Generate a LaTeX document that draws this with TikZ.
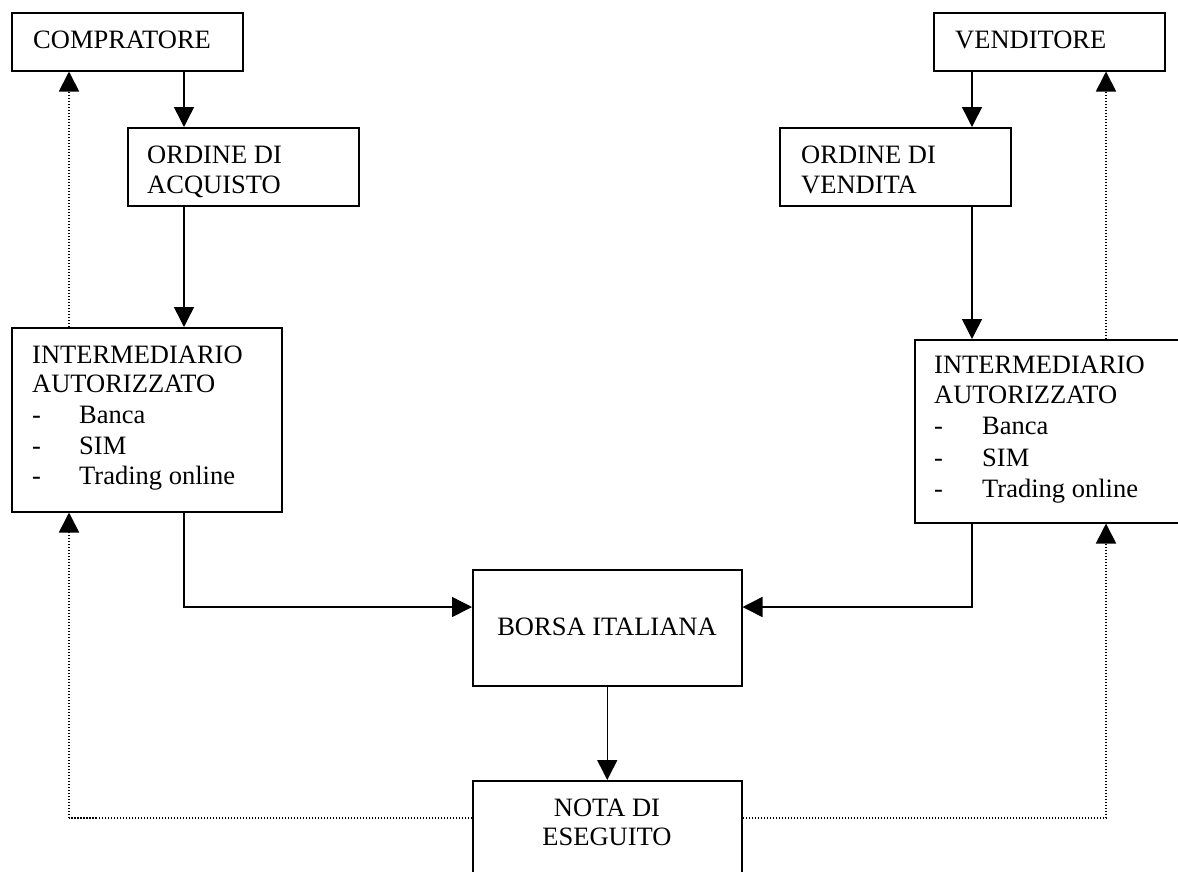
\documentclass[tikz,border=0pt]{standalone}
\usepackage{fontspec}
\setmainfont{Liberation Serif}
\usetikzlibrary{arrows.meta}
\begin{document}
\begin{tikzpicture}[x=1pt,y=-1pt,
  box/.style={draw,line width=1.5pt,rectangle,inner sep=0pt,anchor=north west},
  lbl/.style={anchor=base west,inner sep=0pt,font=\fontsize{26.5}{30}\selectfont},
  clbl/.style={anchor=base,inner sep=0pt,font=\fontsize{26.5}{30}\selectfont},
  conn/.style={line width=1.5pt,-{Triangle[length=20pt,width=20pt]}},
  fb/.style={line width=1.8pt,dash pattern=on 1.5pt off 1.5pt,-{Triangle[length=20pt,width=20pt]}},
  fbl/.style={line width=1.8pt,dash pattern=on 1.5pt off 1.5pt}]
\useasboundingbox[fill=white] (0,0) rectangle (1178,871);
% boxes
\node[box,minimum width=231pt,minimum height=58pt] (comp) at (11,12) {};
\node[box,minimum width=231pt,minimum height=78pt] (oacq) at (127,127) {};
\node[box,minimum width=270pt,minimum height=184pt] (intl) at (11,327) {};
\node[box,minimum width=231pt,minimum height=58pt] (vend) at (933,12) {};
\node[box,minimum width=231pt,minimum height=78pt] (oven) at (779,127) {};
\node[box,minimum width=272pt,minimum height=183pt] (intr) at (914,339) {};
\node[box,minimum width=269pt,minimum height=116pt] (borsa) at (472,569) {};
\node[box,minimum width=269pt,minimum height=110pt] (nota) at (472,780) {};
% texts
\node[lbl] (tcomp) at (33,48) {COMPRATORE};
\node[lbl] (toacq1) at (147,163) {ORDINE DI};
\node[lbl] (toacq2) at (147,193) {ACQUISTO};
\node[lbl] (til1) at (32,363) {INTERMEDIARIO};
\node[lbl] (til2) at (32,392) {AUTORIZZATO};
\node[lbl] (til3) at (32,423) {-};
\node[lbl] (til4) at (32,454) {-};
\node[lbl] (til5) at (32,484) {-};
\node[lbl] (til6) at (79,423) {Banca};
\node[lbl] (til7) at (79,454) {SIM};
\node[lbl] (til8) at (79,484) {Trading online};
\node[lbl] (tvend) at (955,48) {VENDITORE};
\node[lbl] (toven1) at (801,163) {ORDINE DI};
\node[lbl] (toven2) at (801,193) {VENDITA};
\node[lbl] (tir1) at (934,373) {INTERMEDIARIO};
\node[lbl] (tir2) at (934,403) {AUTORIZZATO};
\node[lbl] (tir3) at (934,434) {-};
\node[lbl] (tir4) at (934,466) {-};
\node[lbl] (tir5) at (934,497) {-};
\node[lbl] (tir6) at (982,434) {Banca};
\node[lbl] (tir7) at (982,466) {SIM};
\node[lbl] (tir8) at (982,497) {Trading online};
\node[clbl] (tborsa) at (607,635) {BORSA ITALIANA};
\node[clbl] (tnota1) at (607,816) {NOTA DI};
\node[clbl] (tnota2) at (607,845) {ESEGUITO};
% coordinates
\coordinate (lcorner) at (184,607);
\coordinate (rcorner) at (972,607);
\coordinate (ldot) at (69,818);
\coordinate (rdot) at (1106,818);
% solid connectors
\draw[conn] ([xshift=173pt]comp.south west) -- ([xshift=57pt]oacq.north west);
\draw[conn] ([xshift=57pt]oacq.south west) -- ([xshift=173pt]intl.north west);
\draw[conn] ([xshift=39pt]vend.south west) -- ([xshift=193pt]oven.north west);
\draw[conn] ([xshift=193pt]oven.south west) -- ([xshift=58pt]intr.north west);
\draw[conn] ([xshift=173pt]intl.south west) -- (lcorner) -- (lcorner -| borsa.west);
\draw[conn] ([xshift=58pt]intr.south west) -- (rcorner) -- (rcorner -| borsa.east);
\draw[conn] (borsa.south) -- (nota.north);
% dotted feedback
\draw[fb] ([xshift=58pt]intl.north west) -- ([xshift=58pt]comp.south west);
\draw[fb] ([xshift=192pt]intr.north west) -- ([xshift=173pt]vend.south west);
\draw[fbl] (ldot -| nota.west) -- (ldot);
\draw[fb] (ldot) -- ([xshift=58pt]intl.south west);
\draw[fbl] (rdot -| nota.east) -- (rdot);
\draw[fb] (rdot) -- ([xshift=192pt]intr.south west);
\end{tikzpicture}
\end{document}
